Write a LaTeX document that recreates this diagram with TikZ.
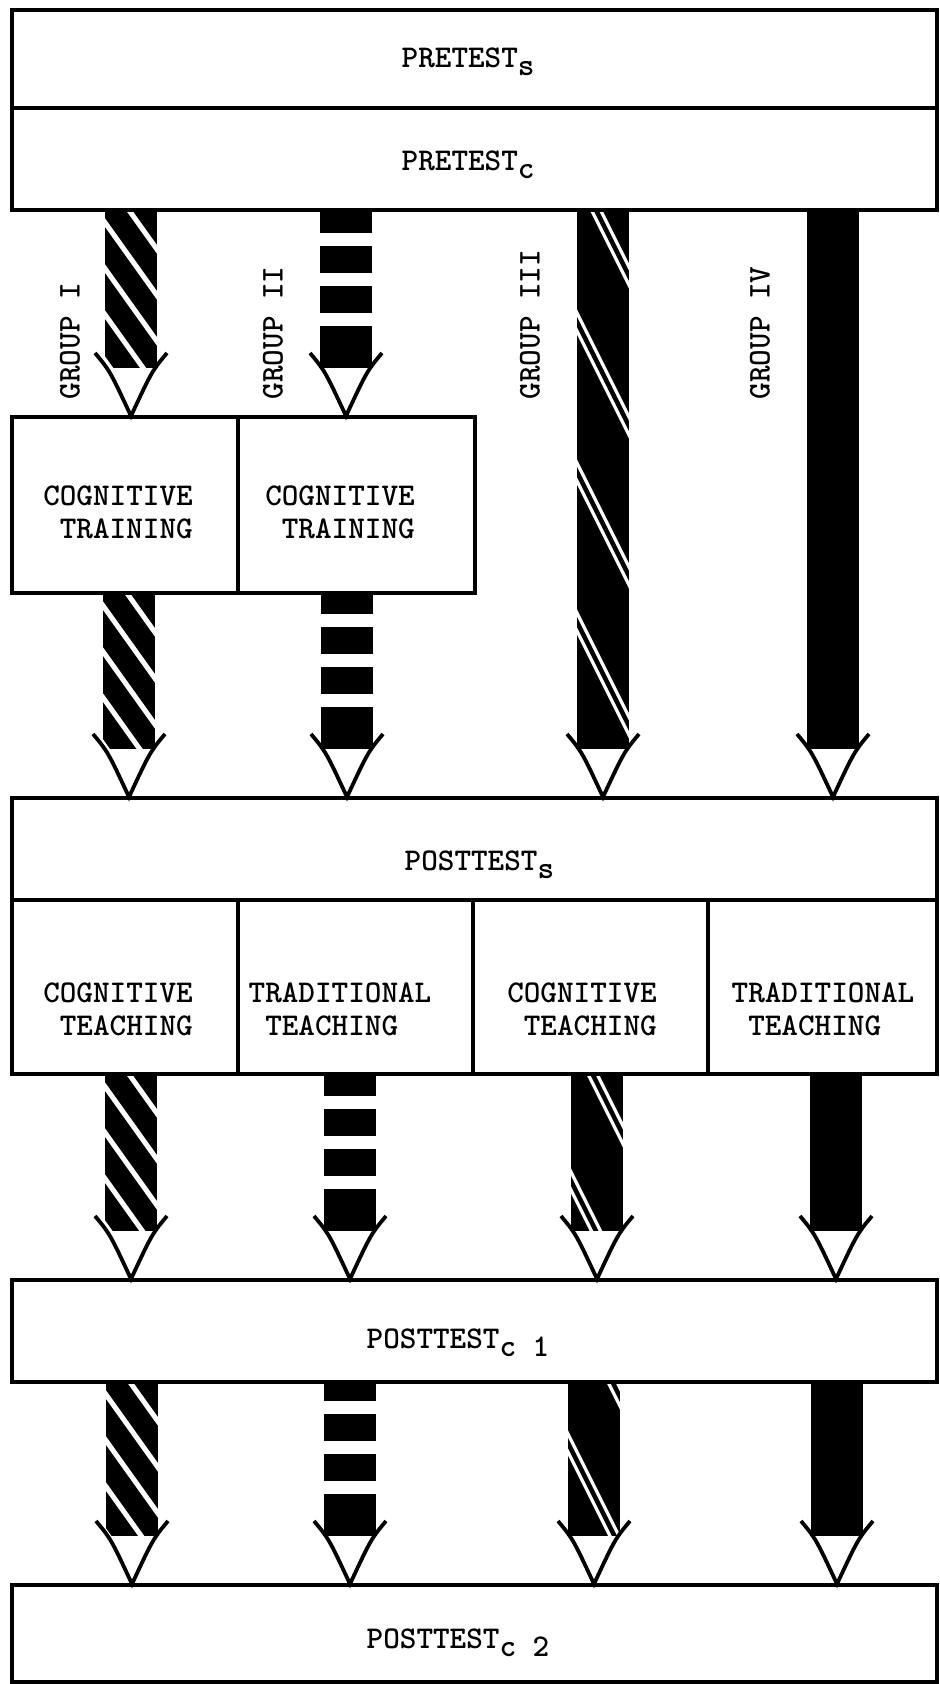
\documentclass[tikz,border=0pt]{standalone}
\usetikzlibrary{positioning}

\newcommand\boxfont{\ttfamily\bfseries\fontsize{9}{9.4}\selectfont}
\newcommand\lowered[1]{\raisebox{-2.4pt}{#1}}

\tikzset{
  box/.style={draw, line width=0.35mm, inner sep=0pt, outer sep=0pt},
  boxtext/.style={font=\boxfont, inner sep=0pt, align=left},
  grouplabel/.style={font=\boxfont, rotate=90, anchor=west, inner sep=0pt},
  headline/.style={line width=0.38mm, line join=miter},
  gapline/.style={white, line width=0.5mm},
  twinline/.style={white, line width=0.33mm},
}

% open head at the end of every arrow
\newcommand\arrowhead[2]{%
  \draw[headline] (#1-36,#2-63) .. controls (#1-21,#2-45) .. (#1,#2)
                  .. controls (#1+21,#2-45) .. (#1+36,#2-63);}

% group I: white diagonal stripes
\newcommand\stripedarrow[3]{%
  \fill (#1-26,#2) rectangle (#1+26,#3-48);
  \begin{scope}
    \clip (#1-26,#2+2) rectangle (#1+26,#3-48);
    \foreach \kk in {-2,...,5}
      \draw[gapline] (#1-30,#2+7+\kk*46) -- ++(60,84);
  \end{scope}
  \arrowhead{#1}{#3}}

% group II: broken shaft
\newcommand\dashedarrow[3]{%
  \begin{scope}
    \clip (#1-26,#2) rectangle (#1+26,#3-48);
    \fill (#1-26,#2) rectangle (#1+26,#3-48);
    \foreach \kk in {0,...,4}
      \fill[white] (#1-27,#3-90-\kk*40) rectangle ++(54,-13);
  \end{scope}
  \arrowhead{#1}{#3}}

% group III: pairs of thin white lines
\newcommand\twinarrow[4]{%
  \fill (#1-26,#2) rectangle (#1+26,#3-48);
  \begin{scope}
    \clip (#1-26,#2+2) rectangle (#1+26,#3-48);
    \foreach \kk in {-1,...,3} {
      \draw[twinline] (#1-30,#2+#4+\kk*150) -- ++(60,120);
      \draw[twinline] (#1-30,#2+#4+18+\kk*150) -- ++(60,120);
    }
  \end{scope}
  \arrowhead{#1}{#3}}

% group IV: solid shaft
\newcommand\solidarrow[3]{%
  \fill (#1-26,#2) rectangle (#1+26,#3-48);
  \arrowhead{#1}{#3}}

\begin{document}
\begin{tikzpicture}[x=0.1mm, y=-0.1mm]
  \useasboundingbox (0,0) rectangle (939,1684);

  % arrows
  \stripedarrow{131}{210}{416}
  \dashedarrow{346}{210}{416}
  \twinarrow{603}{210}{797}{95}
  \solidarrow{833}{210}{797}
  \stripedarrow{129}{593}{797}
  \dashedarrow{347}{593}{797}
  \stripedarrow{131}{1074}{1279}
  \dashedarrow{350}{1074}{1279}
  \twinarrow{597}{1074}{1279}{90}
  \solidarrow{836}{1074}{1279}
  \stripedarrow{132}{1382}{1584}
  \dashedarrow{350}{1382}{1584}
  \twinarrow{594}{1382}{1584}{44}
  \solidarrow{837}{1382}{1584}

  % boxes
  \node[box, anchor=north west, minimum width=92.5mm, minimum height=9.8mm] (pres) at (12,10) {};
  \node[box, below=0pt of pres, minimum width=92.5mm, minimum height=10.2mm] (prec) {};
  \node[box, anchor=north west, minimum width=22.6mm, minimum height=17.6mm] (trainI) at (12,417) {};
  \node[box, right=0pt of trainI, minimum width=23.7mm, minimum height=17.6mm] (trainII) {};
  \node[box, anchor=north west, minimum width=92.5mm, minimum height=10.2mm] (posts) at (12,798) {};
  \node[box, anchor=north west, minimum width=22.6mm, minimum height=17.4mm] (teachI) at (posts.south west) {};
  \node[box, right=0pt of teachI, minimum width=23.5mm, minimum height=17.4mm] (teachII) {};
  \node[box, right=0pt of teachII, minimum width=23.5mm, minimum height=17.4mm] (teachIII) {};
  \node[box, right=0pt of teachIII, minimum width=22.9mm, minimum height=17.4mm] (teachIV) {};
  \node[box, anchor=north west, minimum width=92.5mm, minimum height=10.2mm] (postcI) at (12,1280) {};
  \node[box, anchor=north west, minimum width=92.5mm, minimum height=9.7mm] (postcII) at (12,1585) {};

  % texts
  \node[boxtext, anchor=base west] (presText) at (401,67) {PRETEST\lowered{s}};
  \node[boxtext, anchor=base west] (precText) at (401,170) {PRETEST\lowered{c}};
  \node[boxtext] (trainIText) at (118,512) {COGNITIVE\\\phantom{C}TRAINING};
  \node[boxtext] (trainIIText) at (340,512) {COGNITIVE\\\phantom{C}TRAINING};
  \node[boxtext, anchor=base west] (postsText) at (404,870) {POSTTEST\lowered{s}};
  \node[boxtext] (teachIText) at (118,1009) {COGNITIVE\\\phantom{C}TEACHING};
  \node[boxtext] (teachIIText) at (340,1009) {TRADITIONAL\\\phantom{T}TEACHING};
  \node[boxtext] (teachIIIText) at (582,1009) {COGNITIVE\\\phantom{C}TEACHING};
  \node[boxtext] (teachIVText) at (823,1009) {TRADITIONAL\\\phantom{T}TEACHING};
  \node[boxtext, anchor=base west] (postcIText) at (366,1348) {POSTTEST\lowered{c 1}};
  \node[boxtext, anchor=base west] (postcIIText) at (366,1648) {POSTTEST\lowered{c 2}};

  % group labels
  \node[grouplabel] (groupI) at (70,400) {GROUP I};
  \node[grouplabel] (groupII) at (273,400) {GROUP II};
  \node[grouplabel] (groupIII) at (530,400) {GROUP III};
  \node[grouplabel] (groupIV) at (760,400) {GROUP IV};
\end{tikzpicture}
\end{document}
